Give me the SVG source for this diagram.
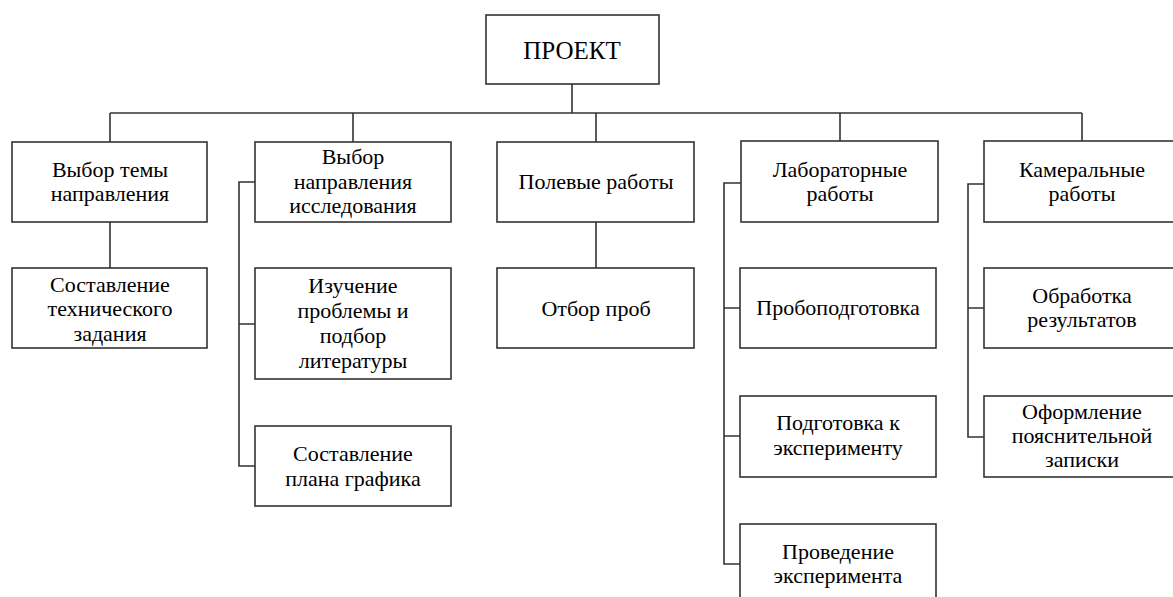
<svg xmlns="http://www.w3.org/2000/svg" width="1173" height="597" viewBox="0 0 1173 597">
<style>
.box{fill:#fff;stroke:#333;stroke-width:1.6}
.ln{fill:none;stroke:#333;stroke-width:1.6}
</style>
<rect width="1173" height="597" fill="#fff"/>
<g id="connectors">
<path class="ln" d="M572,84V113M110,113H1082M110,113V142M353,113V142M596,113V142M840,113V141M1082,113V141"/>
<path class="ln" d="M110,222V268M596,222V268"/>
<path class="ln" d="M255,182H239V466H255M239,324H255"/>
<path class="ln" d="M741,183H724V564H740M724,308H740M724,436H740"/>
<path class="ln" d="M984,184H968V437H984M968,308H984"/>
</g>
<g font-family="Liberation Serif, Times New Roman, serif" font-size="22" fill="#000" text-anchor="middle">
<g id="n-project"><rect class="box" x="486" y="15" width="173" height="69"/><text font-size="25" x="572" y="59">ПРОЕКТ</text></g>
<g id="n-topic"><rect class="box" x="12" y="142" width="195" height="80"/><text x="110" y="177">Выбор темы</text><text x="110" y="201">направления</text></g>
<g id="n-direction"><rect class="box" x="255" y="142" width="196" height="80"/><text x="353" y="164">Выбор</text><text x="353" y="189">направления</text><text x="353" y="213">исследования</text></g>
<g id="n-field"><rect class="box" x="497" y="142" width="197" height="80"/><text x="596" y="189">Полевые работы</text></g>
<g id="n-lab"><rect class="box" x="741" y="141" width="197" height="81"/><text x="840" y="177">Лабораторные</text><text x="840" y="201">работы</text></g>
<g id="n-cameral"><rect class="box" x="984" y="141" width="196" height="81"/><text x="1082" y="177">Камеральные</text><text x="1082" y="201">работы</text></g>
<g id="n-tz"><rect class="box" x="12" y="268" width="195" height="80"/><text x="110" y="292">Составление</text><text x="110" y="316">технического</text><text x="110" y="341">задания</text></g>
<g id="n-study"><rect class="box" x="255" y="268" width="196" height="111"/><text x="353" y="293">Изучение</text><text x="353" y="318">проблемы и</text><text x="353" y="343">подбор</text><text x="353" y="368">литературы</text></g>
<g id="n-plan"><rect class="box" x="255" y="426" width="196" height="80"/><text x="353" y="461">Составление</text><text x="353" y="486">плана графика</text></g>
<g id="n-sampling"><rect class="box" x="497" y="268" width="197" height="80"/><text x="596" y="316">Отбор проб</text></g>
<g id="n-prep"><rect class="box" x="740" y="268" width="196" height="80"/><text x="838" y="315">Пробоподготовка</text></g>
<g id="n-expprep"><rect class="box" x="740" y="396" width="196" height="81"/><text x="838" y="430">Подготовка к</text><text x="838" y="455">эксперименту</text></g>
<g id="n-exp"><rect class="box" x="740" y="524" width="196" height="90"/><text x="838" y="559">Проведение</text><text x="838" y="583">эксперимента</text></g>
<g id="n-results"><rect class="box" x="984" y="268" width="196" height="80"/><text x="1082" y="303">Обработка</text><text x="1082" y="327">результатов</text></g>
<g id="n-note"><rect class="box" x="984" y="396" width="196" height="81"/><text x="1082" y="419">Оформление</text><text x="1082" y="443">пояснительной</text><text x="1082" y="467">записки</text></g>
</g>
</svg>
